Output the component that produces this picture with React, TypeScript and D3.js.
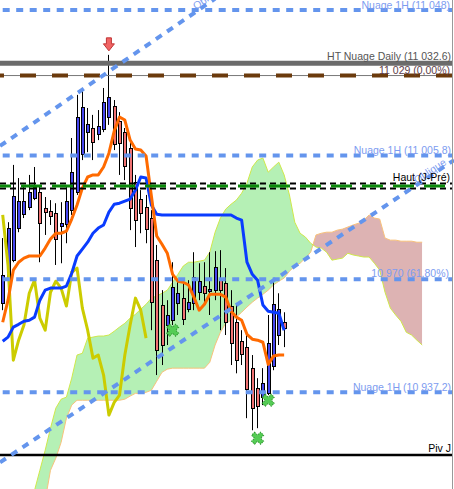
import * as d3 from "d3";

// [open, high, low, close] per 1H bar
const CANDLES: [number, number, number, number][] = [
  [10963.0, 10981.9, 10961.0, 10971.2],
  [10969.7, 10986.5, 10966.8, 10984.8],
  [10975.5, 11003.1, 10974.9, 10994.1],
  [10984.8, 10999.3, 10983.6, 10992.6],
  [10988.8, 10997.3, 10987.7, 10992.6],
  [10990.9, 11000.2, 10990.0, 10995.2],
  [10993.5, 11002.5, 10992.9, 10996.7],
  [10995.2, 10997.3, 10974.9, 10986.2],
  [10990.6, 10993.8, 10982.8, 10989.4],
  [10989.7, 10992.9, 10985.7, 10988.3],
  [10989.1, 10992.0, 10974.1, 10981.6],
  [10985.4, 10992.3, 10974.6, 10986.2],
  [10985.9, 10997.3, 10980.4, 10992.6],
  [10990.0, 11010.9, 10988.6, 11001.0],
  [10995.2, 11023.4, 10994.4, 11017.0],
  [11006.2, 11025.4, 11004.5, 11019.9],
  [11012.6, 11019.6, 11006.8, 11014.9],
  [11013.8, 11017.6, 11004.5, 11009.7],
  [11012.0, 11019.0, 11010.3, 11014.4],
  [11013.5, 11025.4, 11012.6, 11021.3],
  [11017.0, 11035.0, 11014.7, 11022.8],
  [11020.2, 11021.9, 11007.4, 11009.1],
  [11015.8, 11018.4, 11000.2, 11009.4],
  [11012.6, 11013.8, 10998.7, 11002.8],
  [11008.0, 11010.3, 10984.2, 10990.6],
  [10998.1, 11000.2, 10979.3, 10987.1],
  [10993.2, 10995.8, 10983.3, 10989.1],
  [10990.9, 10994.4, 10980.4, 10984.5],
  [10987.7, 10990.0, 10955.2, 10963.3],
  [10975.5, 10979.9, 10942.2, 10949.4],
  [10962.5, 10966.8, 10945.1, 10950.9],
  [10956.7, 10963.9, 10950.9, 10959.6],
  [10958.1, 10974.9, 10956.7, 10967.7],
  [10963.0, 10969.1, 10959.6, 10965.9],
  [10964.5, 10968.8, 10956.7, 10958.4],
  [10961.3, 10969.7, 10960.4, 10963.3],
  [10963.0, 10977.8, 10961.0, 10970.6],
  [10966.2, 10974.6, 10963.9, 10969.4],
  [10968.0, 10974.9, 10962.5, 10965.9],
  [10966.5, 10977.8, 10959.6, 10967.1],
  [10966.8, 10978.1, 10963.9, 10973.5],
  [10970.3, 10978.4, 10955.2, 10966.8],
  [10968.8, 10973.2, 10953.8, 10957.5],
  [10962.2, 10966.8, 10945.1, 10951.4],
  [10957.5, 10962.5, 10942.7, 10946.5],
  [10952.0, 10955.2, 10945.1, 10948.2],
  [10950.3, 10953.8, 10929.7, 10938.1],
  [10944.2, 10948.0, 10926.2, 10932.6],
  [10938.4, 10941.3, 10926.8, 10933.2],
  [10935.8, 10944.2, 10933.5, 10939.8],
  [10936.9, 10959.6, 10936.4, 10951.4],
  [10944.8, 10969.1, 10943.6, 10962.7],
  [10953.8, 10965.9, 10950.9, 10961.3],
  [10957.5, 10960.4, 10950.3, 10955.8],
];

const TENKAN = [
  10957.5, 10963.9, 10972.6, 10974.9, 10976.1, 10976.7, 10976.7, 10976.7, 10979.0, 10981.6,
  10983.3, 10983.3, 10983.9, 10987.4, 10991.5, 10996.4, 10999.6, 11000.2, 11000.2, 11002.5,
  11006.5, 11012.9, 11017.0, 11016.1, 11010.3, 11007.7, 11007.4, 11005.7, 10994.1, 10982.5,
  10980.1, 10977.5, 10971.4, 10969.4, 10969.1, 10968.3, 10964.8, 10961.0, 10962.7, 10965.6,
  10965.6, 10965.6, 10964.8, 10960.7, 10959.0, 10958.1, 10954.0, 10952.6, 10952.3, 10951.7,
  10945.3, 10947.7, 10948.0, 10948.0,
];

const KIJUN = [
  10952.0, 10953.2, 10956.1, 10956.9, 10957.8, 10958.1, 10959.0, 10963.9, 10966.8, 10967.4,
  10967.4, 10967.4, 10968.0, 10971.7, 10976.7, 10978.7, 10980.7, 10983.3, 10984.8, 10985.7,
  10989.4, 10991.7, 10992.0, 10992.6, 10993.2, 10995.8, 10999.6, 10999.3, 10991.5, 10988.8,
  10988.6, 10988.6, 10988.6, 10988.6, 10988.6, 10988.6, 10988.6, 10988.6, 10988.6, 10988.6,
  10988.6, 10988.6, 10988.6, 10988.6, 10987.7, 10987.1, 10974.9, 10971.4, 10969.7, 10962.5,
  10960.7, 10960.4, 10960.1, 10955.2,
];

const CHIKOU = [
  10988.6, 10974.1, 10946.5, 10952.3, 10956.7, 10965.9, 10969.7, 10958.7, 10955.2, 10966.2,
  10969.4, 10967.4, 10962.2, 10972.0, 10973.2, 10961.6, 10955.2, 10947.1, 10948.0, 10942.2,
  10930.6, 10934.3, 10936.4, 10948.0, 10956.7, 10964.5, 10961.0, 10952.9,
];

// cloud spans start at bar 6 and run 26 bars past the last candle
const CLOUD_START = 6;
const SPAN_A = [
  10908.8, 10914.6, 10920.4, 10926.8, 10932.6, 10935.2, 10935.8, 10941.3, 10948.0, 10948.5,
  10952.9, 10953.2, 10953.5, 10953.5, 10953.8, 10954.9, 10956.1, 10957.2, 10958.7, 10959.8,
  10961.3, 10962.7, 10964.5, 10965.1, 10965.9, 10966.8, 10969.1, 10971.4, 10973.8, 10974.9,
  10974.9, 10975.2, 10975.5, 10977.8, 10983.6, 10987.7, 10990.3, 10991.7, 10992.9, 10994.9,
  10997.8, 11002.5, 11004.5, 11005.1, 11001.0, 11002.5, 11003.9, 11000.2, 10994.4, 10986.5,
  10983.3, 10982.2, 10980.4, 10979.3, 10979.0, 10977.8, 10975.5, 10975.8, 10976.1, 10977.5,
  10977.0, 10976.7, 10976.4, 10976.4, 10974.6, 10972.6, 10966.2, 10961.6, 10959.6, 10957.8,
  10954.6, 10953.8, 10952.3, 10950.9,
];
const SPAN_B = [
  10894.3, 10900.1, 10905.9, 10914.6, 10918.1, 10922.7, 10929.7, 10933.5, 10934.9, 10934.9,
  10934.9, 10934.9, 10934.9, 10934.9, 10934.9, 10934.9, 10934.9, 10935.2, 10936.1, 10936.9,
  10936.9, 10937.2, 10937.8, 10940.4, 10943.0, 10943.9, 10944.2, 10944.2, 10944.2, 10944.2,
  10944.2, 10944.2, 10944.2, 10945.9, 10950.9, 10954.6, 10957.2, 10958.1, 10959.0, 10960.4,
  10961.9, 10963.3, 10964.5, 10965.6, 10966.8, 10968.3, 10969.4, 10970.3, 10972.3, 10973.8,
  10974.6, 10976.1, 10977.8, 10982.8, 10983.3, 10983.6, 10983.6, 10984.2, 10984.5, 10985.1,
  10985.7, 10986.2, 10987.1, 10988.6, 10987.7, 10987.4, 10981.9, 10981.3, 10981.3, 10981.0,
  10981.0, 10981.0, 10980.7, 10980.7,
];

const LEVEL_PRICES = [11048, 11032.6, 11029, 11005.8, 10997.0, 10970, 10937.2, 10919.0];
const LEVEL_LABELS = [
  "Nuage 1H (11 048)",
  "HT Nuage Daily (11 032.6)",
  "11 029 (0,00%)",
  "Nuage 1H (11 005.8)",
  "Haut (J-Pré)",
  "10 970 (61,80%)",
  "Nuage 1H (10 937.2)",
  "Piv J",
];

// oblique trendlines: [bar, price] end points
const OBLIQUE_UPPER: [number, number][] = [[-0.5, 11008.6], [40, 11051.3]];
const OBLIQUE_LOWER: [number, number][] = [[-0.5, 10916.9], [85, 11004.5]];

// green reversal crosses: [bar, price]
const CROSSES: [number, number][] = [[32, 10955.2], [48, 10923.9], [50, 10934.9]];
const ARROW_BAR = 20;

const FONT = "'Liberation Sans', Arial, sans-serif";
const BLUE_DASH = "#6495ed";
const BLUE_TEXT = "#7d9cf0";

export default function App() {
  const width = 454;
  const height = 489;
  const right = 452;

  const x = d3.scaleLinear().domain([0, 79]).range([2.7, 422.2]);
  const y = d3.scaleLinear().domain([11048, 10937.2]).range([10, 392.3]);

  // cloud
  const idx = d3.range(SPAN_A.length);
  const cx = (k: number) => x(k + CLOUD_START);
  const aboveB = d3.area<number>().x(cx).y0((k) => y(SPAN_B[k])).y1(-10);
  const belowA = d3.area<number>().x(cx).y0(height + 10).y1((k) => y(SPAN_A[k]));
  const aboveA = d3.area<number>().x(cx).y0((k) => y(SPAN_A[k])).y1(-10);
  const belowB = d3.area<number>().x(cx).y0(height + 10).y1((k) => y(SPAN_B[k]));
  const edgeA = d3.line<number>().x(cx).y((k) => y(SPAN_A[k]));
  const edgeB = d3.line<number>().x(cx).y((k) => y(SPAN_B[k]));

  const series = d3
    .line<number>()
    .x((_, i) => x(i))
    .y((v) => y(v));

  const trend = d3
    .line<[number, number]>()
    .x((d) => x(d[0]))
    .y((d) => y(d[1]));

  const cross = d3.symbol(d3.symbolCross, 90)();

  const [, aHigh] = CANDLES[ARROW_BAR];
  const ax = x(ARROW_BAR);
  const ay = y(aHigh) - 4;

  const slope = (seg: [number, number][]) =>
    (Math.atan2(y(seg[1][1]) - y(seg[0][1]), x(seg[1][0]) - x(seg[0][0])) * 180) / Math.PI;
  const angUp = slope(OBLIQUE_UPPER);
  const angLow = slope(OBLIQUE_LOWER);

  const labelAt = (i: number) => y(LEVEL_PRICES[i]);

  return (
    <svg
      width={width}
      height={height}
      style={{ position: "absolute", left: 0, top: 0, background: "#fff" }}
      fontFamily={FONT}
    >
      <defs>
        <clipPath id="belowA">
          <path d={belowA(idx) ?? ""} />
        </clipPath>
        <clipPath id="belowB">
          <path d={belowB(idx) ?? ""} />
        </clipPath>
      </defs>

      {/* Ichimoku cloud */}
      <path d={aboveB(idx) ?? ""} fill="#b5f0b5" clipPath="url(#belowA)" />
      <path d={aboveA(idx) ?? ""} fill="#ddb3b3" clipPath="url(#belowB)" />
      <path d={edgeB(idx) ?? ""} fill="none" stroke="#f8c27c" strokeWidth={1} />
      <path d={edgeA(idx) ?? ""} fill="none" stroke="#cfe84a" strokeWidth={1} />

      {/* candles */}
      {CANDLES.map(([o, h, l, c], i) => {
        const left = Math.round(x(i) - 1.5);
        const top = Math.round(y(Math.max(o, c)));
        const bottom = Math.round(y(Math.min(o, c)));
        return (
          <g key={i}>
            <line x1={left + 1.5} x2={left + 1.5} y1={y(h)} y2={y(l)} stroke="#000" strokeWidth={1} />
            <rect
              x={left + 0.5}
              y={top + 0.5}
              width={3}
              height={Math.max(bottom - top, 1)}
              fill={c >= o ? "#4646ee" : "#f07272"}
              stroke="#000"
              strokeWidth={1}
            />
          </g>
        );
      })}

      {/* Tenkan / Kijun / Chikou */}
      <path d={series(CHIKOU) ?? ""} fill="none" stroke="#cccc00" strokeWidth={3} strokeLinejoin="round" />
      <path d={series(KIJUN) ?? ""} fill="none" stroke="#0a3cff" strokeWidth={3} strokeLinejoin="round" />
      <path d={series(TENKAN) ?? ""} fill="none" stroke="#ff6a00" strokeWidth={3} strokeLinejoin="round" />

      {/* horizontal levels */}
      {[0, 3, 5, 6].map((i) => (
        <line key={i} x1={0} x2={right} y1={labelAt(i)} y2={labelAt(i)} stroke={BLUE_DASH} strokeWidth={4} strokeDasharray="7,6.5" strokeDashoffset={-2.7} />
      ))}
      <line x1={0} x2={right} y1={labelAt(1)} y2={labelAt(1)} stroke="#6b6b6b" strokeWidth={5} />
      <line x1={0} x2={right} y1={labelAt(2)} y2={labelAt(2)} stroke="#777" strokeWidth={1} />
      <line x1={0} x2={right} y1={labelAt(2)} y2={labelAt(2)} stroke="#6b3a0c" strokeWidth={4} strokeDasharray="16,16" strokeDashoffset={12} />
      <line x1={0} x2={right} y1={labelAt(4) - 2.5} y2={labelAt(4) - 2.5} stroke="#000" strokeWidth={2} strokeDasharray="6,4" />
      <line x1={0} x2={right} y1={labelAt(4) + 2.5} y2={labelAt(4) + 2.5} stroke="#000" strokeWidth={2} strokeDasharray="6,4" />
      <line x1={0} x2={right} y1={labelAt(4)} y2={labelAt(4)} stroke="#0a8a0a" strokeWidth={3} strokeDasharray="21,10" strokeDashoffset={10} />
      <line x1={0} x2={right} y1={labelAt(7)} y2={labelAt(7)} stroke="#000" strokeWidth={2.5} />

      {/* oblique trendlines */}
      <path d={trend(OBLIQUE_UPPER) ?? ""} stroke={BLUE_DASH} strokeWidth={4} strokeDasharray="7,6.5" fill="none" />
      <path d={trend(OBLIQUE_LOWER) ?? ""} stroke={BLUE_DASH} strokeWidth={4} strokeDasharray="7,6.5" fill="none" />
      <text x={196} y={10} fontSize={10.5} fill={BLUE_TEXT} transform={`rotate(${angUp},196,10)`}>
        Oblique
      </text>
      <text x={447} y={164} fontSize={10.5} fill={BLUE_TEXT} textAnchor="end" transform={`rotate(${angLow},447,164)`}>
        Oblique
      </text>

      {/* level labels */}
      <g fontSize={10.5} textAnchor="end">
        <text x={450} y={labelAt(0) - 1.5} fill={BLUE_TEXT}>{LEVEL_LABELS[0]}</text>
        <text x={451} y={labelAt(1) - 3} fill="#555">{LEVEL_LABELS[1]}</text>
        <text x={450} y={labelAt(2) - 2} fill="#5e3d48">{LEVEL_LABELS[2]}</text>
        <text x={451} y={labelAt(3) - 2} fill={BLUE_TEXT}>{LEVEL_LABELS[3]}</text>
        <text x={450} y={labelAt(4) - 5} fill="#000">{LEVEL_LABELS[4]}</text>
        <text x={449} y={labelAt(5) - 2} fill={BLUE_TEXT}>{LEVEL_LABELS[5]}</text>
        <text x={451} y={labelAt(6) - 1.5} fill={BLUE_TEXT}>{LEVEL_LABELS[6]}</text>
        <text x={451} y={labelAt(7) - 3} fill="#000">{LEVEL_LABELS[7]}</text>
      </g>

      {/* markers */}
      {CROSSES.map(([b, p], i) => (
        <path
          key={i}
          d={cross ?? ""}
          transform={`translate(${x(b)},${y(p)}) rotate(45)`}
          fill="#55cc55"
          stroke="#2e9a2e"
          strokeWidth={1}
          strokeDasharray="1.5,1"
        />
      ))}
      <path
        d={`M${ax - 2.5},${ay - 13} h5 v6 h3 l-5.5,7 l-5.5,-7 h3 z`}
        fill="#f06464"
        stroke="#c03434"
        strokeWidth={1}
      />

      <line x1={right + 0.5} x2={right + 0.5} y1={0} y2={height} stroke="#999" strokeWidth={1} />
    </svg>
  );
}
